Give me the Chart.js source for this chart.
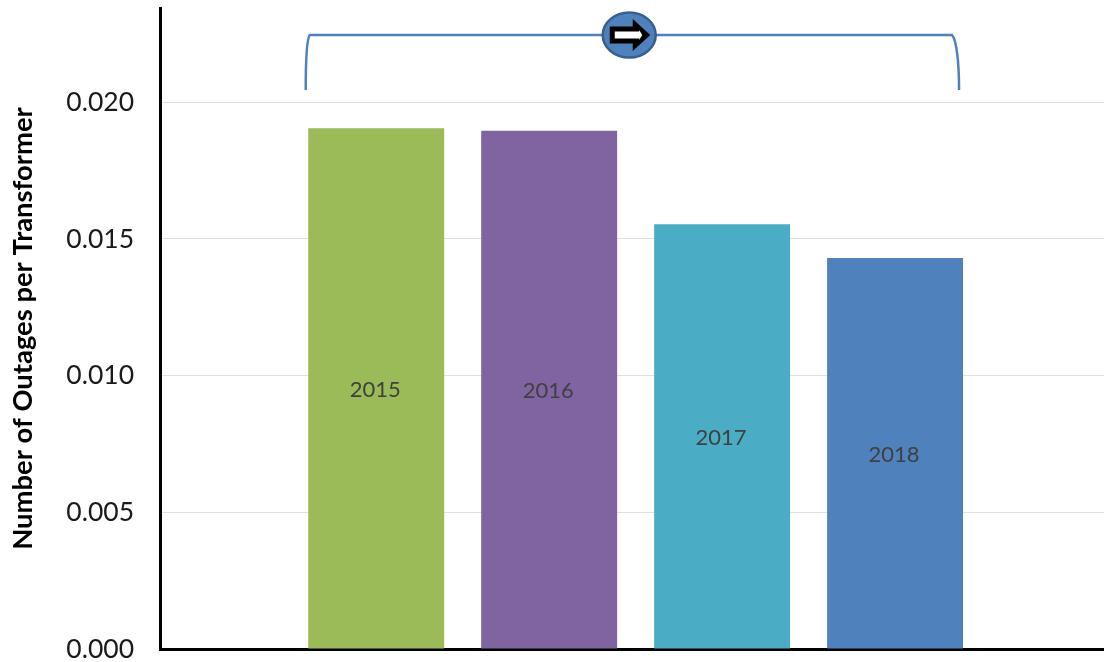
<!DOCTYPE html>
<html>
<head>
<meta charset="utf-8">
<style>html,body{margin:0;padding:0;background:#fff}canvas{display:block}</style>
<script src="https://cdn.jsdelivr.net/npm/chart.js@4"></script>
</head>
<body>
<canvas id="c" width="1104" height="662"></canvas>
<script>
const categories = ['2015', '2016', '2017', '2018'];
const values = [0.01905, 0.01896, 0.01554, 0.01430];
const barColors = ['#9BBB59', '#8064A2', '#4BACC6', '#4F81BD'];
const axisTitle = 'Number of Outages per Transformer';

const barLabels = {
  id: 'barLabels',
  afterDatasetsDraw(chart) {
    const { ctx, scales: { x, y } } = chart;
    ctx.save();
    ctx.font = '22px Lato';
    ctx.fillStyle = '#404040';
    ctx.textAlign = 'center';
    ctx.textBaseline = 'middle';
    categories.forEach((c, i) => {
      ctx.fillText(c, x.getPixelForValue(i) - 1, y.getPixelForValue(values[i] / 2) + 1);
    });
    ctx.restore();
  }
};

const bracket = {
  id: 'bracket',
  afterDraw(chart) {
    const { ctx, scales: { x, y } } = chart;
    const xl = x.getPixelForValue(-0.4075), xr = x.getPixelForValue(3.37);
    const yb = y.getPixelForValue(0.02045), yt = y.getPixelForValue(0.02246);
    const cx = x.getPixelForValue(1.463), cy = yt;
    ctx.save();
    ctx.strokeStyle = '#4F81BD';
    ctx.lineWidth = 2.5;
    ctx.beginPath();
    ctx.moveTo(xl, yb);
    ctx.bezierCurveTo(xl, yb - 30, xl + 1, yt + 4, xl + 4, yt);
    ctx.lineTo(xr - 7, yt);
    ctx.bezierCurveTo(xr - 3, yt + 4, xr, yb - 30, xr, yb);
    ctx.stroke();
    // badge
    ctx.beginPath();
    ctx.ellipse(cx, cy, 26.5, 22.5, 0, 0, Math.PI * 2);
    ctx.fillStyle = '#4F81BD';
    ctx.fill();
    ctx.strokeStyle = '#37608F';
    ctx.lineWidth = 2.5;
    ctx.stroke();
    // arrow outer
    const arrow = (x0, x1, xh, hs, hh) => {
      ctx.beginPath();
      ctx.moveTo(cx + x0, cy - hs);
      ctx.lineTo(cx + xh, cy - hs);
      ctx.lineTo(cx + xh, cy - hh);
      ctx.lineTo(cx + x1, cy);
      ctx.lineTo(cx + xh, cy + hh);
      ctx.lineTo(cx + xh, cy + hs);
      ctx.lineTo(cx + x0, cy + hs);
      ctx.closePath();
      ctx.fill();
    };
    ctx.fillStyle = '#000';
    arrow(-19.5, 21, 3.5, 8.5, 16);
    ctx.fillStyle = '#fff';
    arrow(-14.5, 13, 10, 3.5, 5);
    ctx.restore();
  }
};

new Chart(document.getElementById('c'), {
  type: 'bar',
  data: {
    datasets: [{
      data: categories.map((c, i) => ({ x: i, y: values[i] })),
      backgroundColor: barColors,
      borderWidth: 0,
      barPercentage: 0.786,
      categoryPercentage: 1
    }]
  },
  plugins: [barLabels, bracket],
  options: {
    responsive: false,
    animation: false,
    layout: { autoPadding: false, padding: { top: 8, bottom: 13, left: 0, right: 0 } },
    plugins: { legend: { display: false }, tooltip: { enabled: false } },
    scales: {
      x: {
        type: 'linear',
        offset: false,
        min: -1.25,
        max: 4.208,
        ticks: { display: false },
        grid: { display: false, drawTicks: false },
        border: { color: '#000', width: 3 },
        afterFit(s) { s.height = 0; s.paddingLeft = 0; s.paddingRight = 0; }
      },
      y: {
        min: 0,
        max: 0.02345,
        ticks: {
          stepSize: 0.005,
          includeBounds: false,
          padding: 26,
          color: '#1a1a1a',
          font: { family: 'Lato', size: 26.5 },
          callback: v => v.toFixed(3)
        },
        grid: { color: '#E0E0E0', lineWidth: 1, drawTicks: false },
        border: { color: '#000', width: 3 },
        title: {
          display: true,
          text: axisTitle,
          color: '#000',
          font: { family: 'Lato', size: 27.4, weight: 'bold' },
          padding: { top: 7, bottom: 0 }
        },
        afterFit(s) { s.width = 160; s.paddingTop = 0; s.paddingBottom = 0; }
      }
    }
  }
});
</script>
</body>
</html>
